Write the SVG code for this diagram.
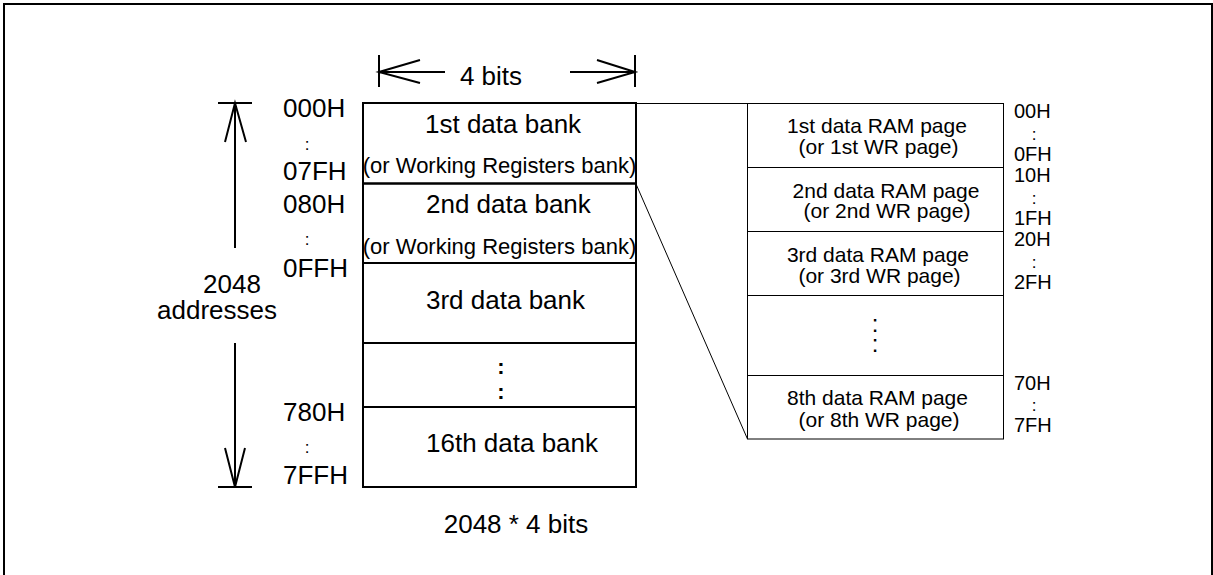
<svg xmlns="http://www.w3.org/2000/svg" width="1213" height="575" viewBox="0 0 1213 575">
<style>
text{font-family:"Liberation Sans",Arial,sans-serif;fill:#000}
.a{font-size:26px}
.s{font-size:22px}
.p{font-size:21px}
.r{font-size:20px}
.m{text-anchor:middle}
.c{font-size:17px;text-anchor:middle}
.thick{fill:none;stroke:#000;stroke-width:2}
.thin{fill:none;stroke:#000;stroke-width:1}
</style>
<rect width="1213" height="575" fill="#fff"/>
<path class="thick" d="M4,575 V4 H1212 V575"/>

<g id="width-dim">
<path class="thick" d="M379,55 V87 M635,55 V87 M379,72 H445 M570,72 H635 M420,60 L379,72 L420,83 M597,60 L635,72 L597,83"/>
<text class="a m" x="491" y="85">4 bits</text>
</g>

<g id="height-dim">
<path class="thick" d="M218,103 H252 M218,487 H252 M235,103 V248 M235,343 V487 M225,142 L235,103 L246,142 M225,448 L235,487 L245,448"/>
<text class="a m" x="232" y="293">2048</text>
<text class="a m" x="217" y="319">addresses</text>
</g>

<g id="addresses-left">
<text class="a" x="283" y="117">000H</text>
<text class="c" x="307" y="150">:</text>
<text class="a" x="283" y="180">07FH</text>
<text class="a" x="283" y="213">080H</text>
<text class="c" x="307" y="245">:</text>
<text class="a" x="283" y="277">0FFH</text>
<text class="a" x="283" y="421">780H</text>
<text class="c" x="307" y="453">:</text>
<text class="a" x="283" y="484">7FFH</text>
</g>

<g id="bank-1">
<rect class="thick" x="363" y="103" width="273" height="80.5"/>
<text class="a" x="425" y="133">1st data bank</text>
<text class="s m" x="499.5" y="173">(or Working Registers bank)</text>
</g>
<g id="bank-2">
<rect class="thick" x="363" y="183.5" width="273" height="79.5"/>
<text class="a" x="426" y="213">2nd data bank</text>
<text class="s m" x="499.5" y="254">(or Working Registers bank)</text>
</g>
<g id="bank-3">
<rect class="thick" x="363" y="263" width="273" height="80"/>
<text class="a" x="426" y="309">3rd data bank</text>
</g>
<g id="bank-dots">
<rect class="thick" x="363" y="343" width="273" height="64"/>
<text class="m" style="font-size:22px;font-weight:bold" x="501" y="374">:<tspan x="501" dy="25">:</tspan></text>
</g>
<g id="bank-16">
<rect class="thick" x="363" y="407" width="273" height="80"/>
<text class="a" x="426" y="452">16th data bank</text>
</g>
<g id="caption">
<text class="a m" x="516" y="533">2048 * 4 bits</text>
</g>

<g id="connectors">
<path class="thin" d="M636,103.5 H747.5 M636,184 L747.5,439"/>
</g>

<g id="page-1">
<rect class="thin" x="747.5" y="103.5" width="256" height="64"/>
<text class="p m" x="877" y="133">1st data RAM page<tspan x="878.5" dy="21">(or 1st WR page)</tspan></text>
</g>
<g id="page-2">
<rect class="thin" x="747.5" y="167.5" width="256" height="64"/>
<text class="p m" x="886" y="198">2nd data RAM page<tspan x="887" dy="20">(or 2nd WR page)</tspan></text>
</g>
<g id="page-3">
<rect class="thin" x="747.5" y="231.5" width="256" height="64"/>
<text class="p m" x="878" y="262">3rd data RAM page<tspan x="879.5" dy="21">(or 3rd WR page)</tspan></text>
</g>
<g id="page-dots">
<rect class="thin" x="747.5" y="295.5" width="256" height="80"/>
<text class="m" style="font-size:24px" x="875" y="332">:<tspan x="875" dy="20">:</tspan></text>
</g>
<g id="page-8">
<rect class="thin" x="747.5" y="375.5" width="256" height="63.5"/>
<text class="p m" x="877.5" y="405">8th data RAM page<tspan x="879" dy="22">(or 8th WR page)</tspan></text>
</g>

<g id="addresses-right">
<text class="r" x="1014" y="118">00H</text>
<text class="c" x="1034" y="140">:</text>
<text class="r" x="1014" y="161">0FH</text>
<text class="r" x="1014" y="182">10H</text>
<text class="c" x="1034" y="204">:</text>
<text class="r" x="1014" y="225">1FH</text>
<text class="r" x="1014" y="246">20H</text>
<text class="c" x="1034" y="268">:</text>
<text class="r" x="1014" y="289">2FH</text>
<text class="r" x="1014" y="390">70H</text>
<text class="c" x="1034" y="411">:</text>
<text class="r" x="1014" y="432">7FH</text>
</g>
</svg>
